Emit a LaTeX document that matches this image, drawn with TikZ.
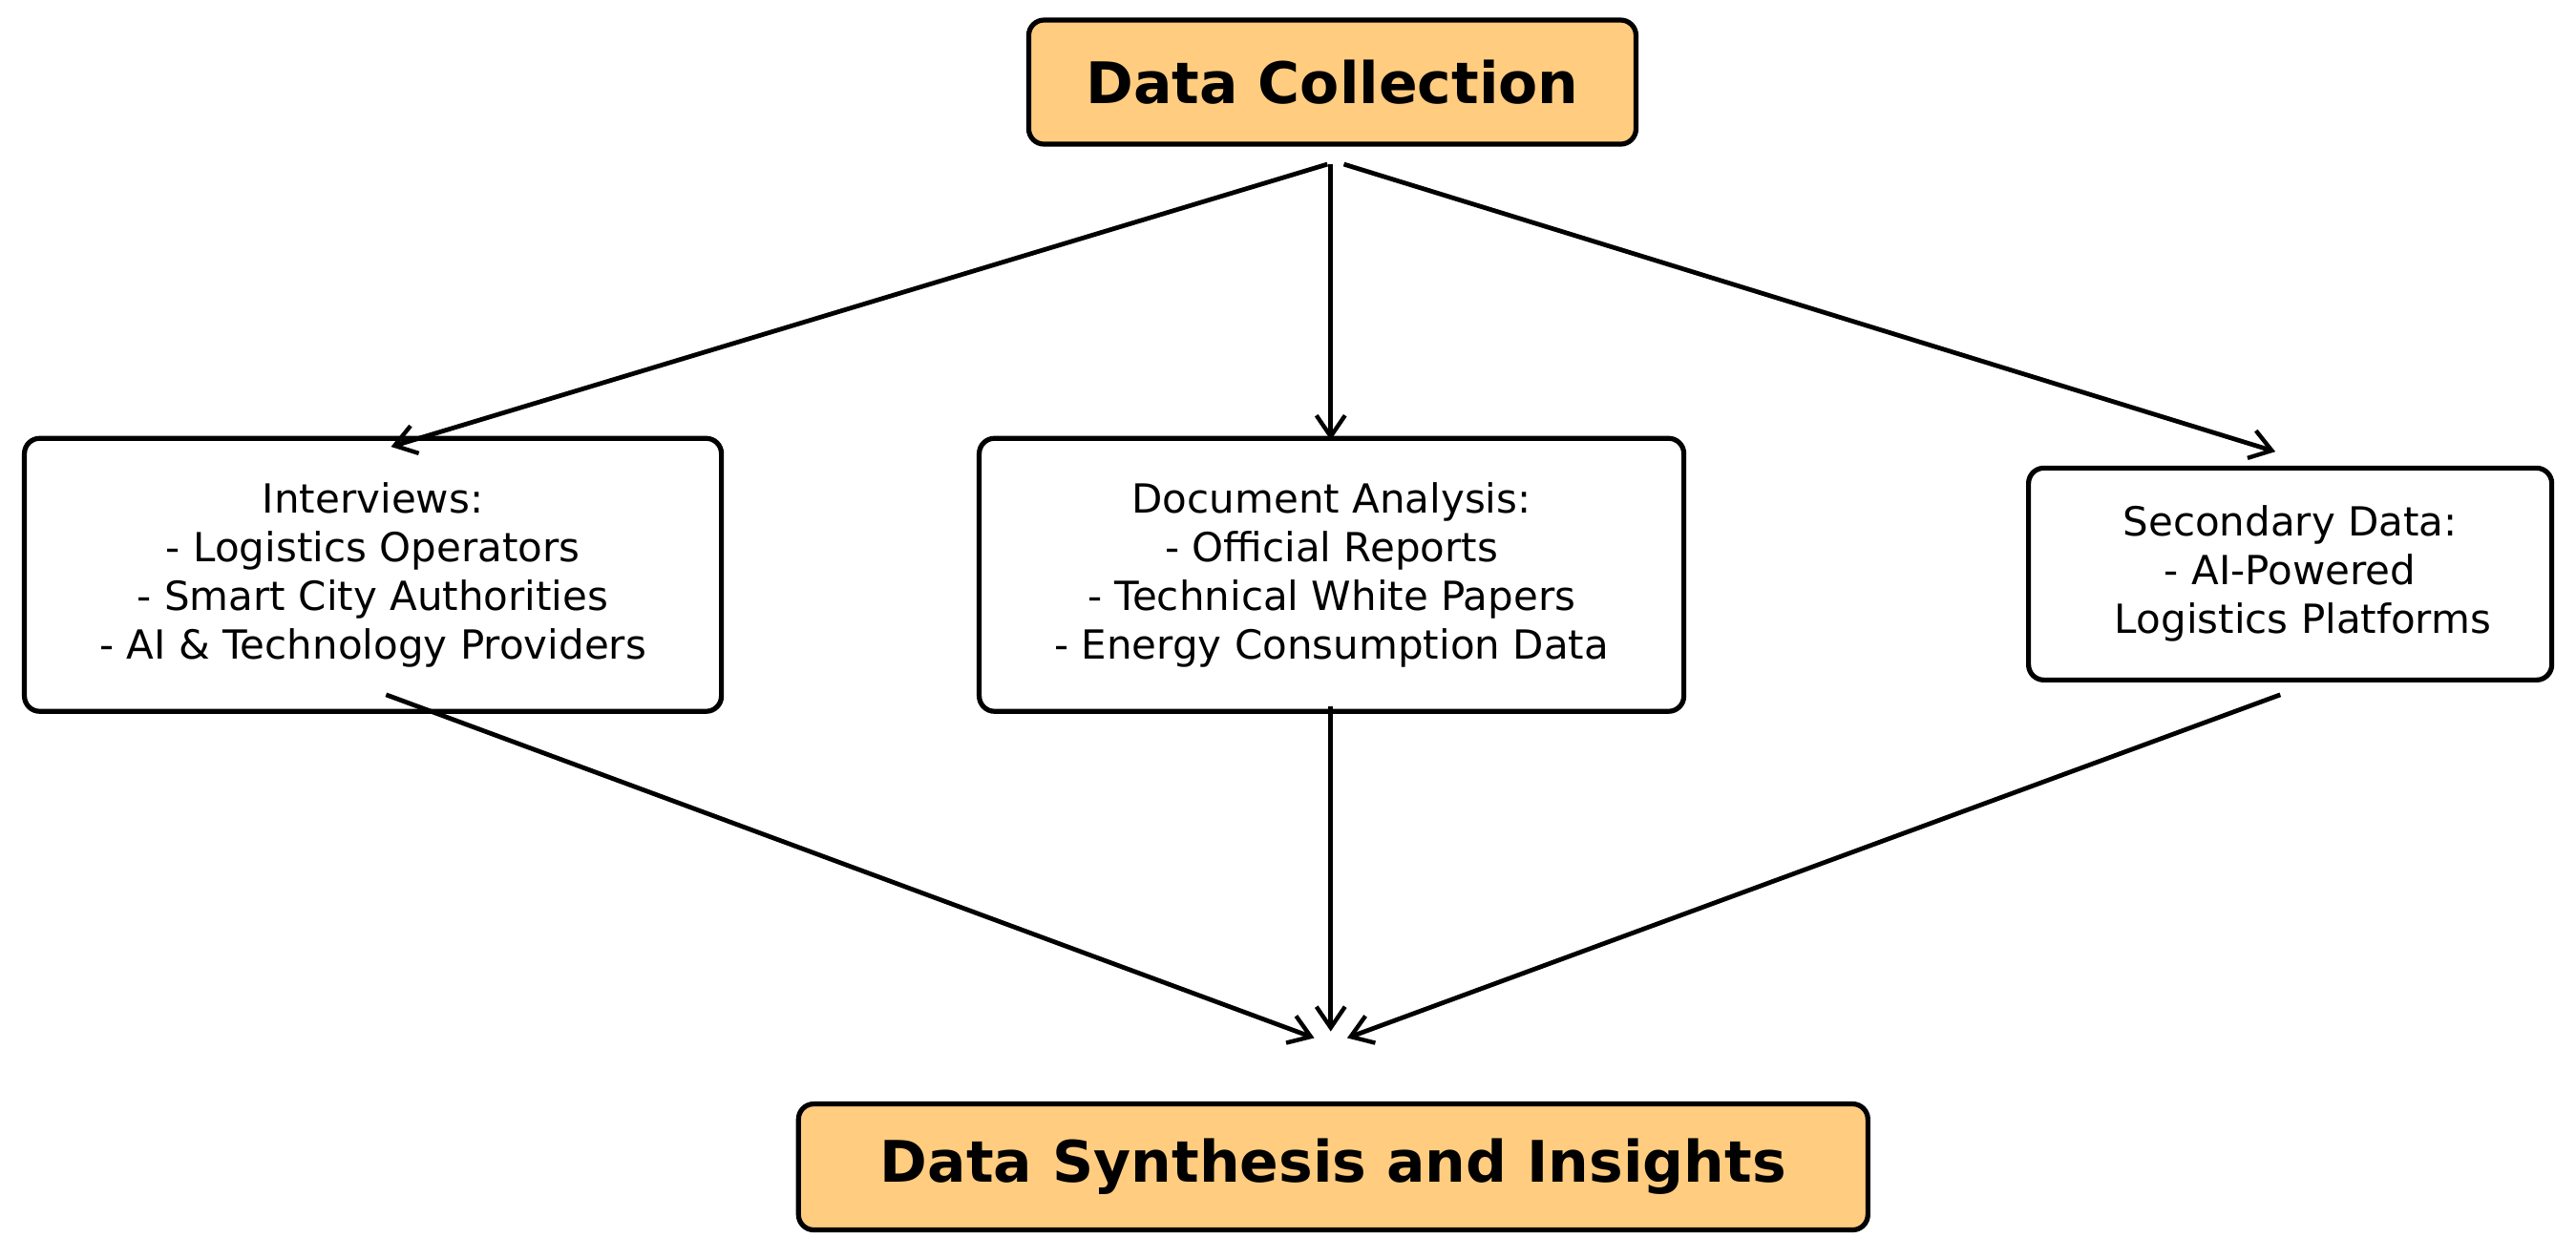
\documentclass[tikz,border=0pt]{standalone}
\usepackage{fontspec}
\setmainfont{DejaVu Sans}
\usetikzlibrary{arrows.meta}
\begin{document}
\begin{tikzpicture}[x=0.8603pt,y=-0.8603pt,
  box/.style={draw=black,line width=2.6pt,rounded corners=8pt,align=center,inner sep=0pt,font=\fontsize{21}{25.5}\selectfont},
  title/.style={box,fill=orange!50!yellow!60,fill={rgb,255:red,255;green,204;blue,128},font=\fontsize{30}{36}\bfseries\selectfont},
  arr/.style={line width=2.4pt,-{Straight Barb[length=11pt,width=15pt,line width=2.2pt]}}]
\useasboundingbox (0,0) rectangle (1568,766);
\node[title,minimum width=318pt,minimum height=65pt] (dc) at (811,50) {Data Collection};
\node[title,minimum width=560pt,minimum height=66pt] (ds) at (811.5,710.5) {Data Synthesis and Insights};
\node[box,minimum width=365pt,minimum height=143pt] (iv) at (227,350) {Interviews:\\- Logistics Operators\\- Smart City Authorities\\- AI \& Technology Providers};
\node[box,minimum width=369pt,minimum height=143pt] (da) at (810.5,350) {Document Analysis:\\- Official Reports\\- Technical White Papers\\- Energy Consumption Data};
\node[box,minimum width=274pt,minimum height=111pt] (sd) at (1394,349.5) {Secondary Data:\\- AI-Powered\\\ \ Logistics Platforms};
\coordinate (s1) at (808,100); \coordinate (s2) at (810,100); \coordinate (s3) at (818,100);
\coordinate (e1) at (238,272); \coordinate (e2) at (810,268); \coordinate (e3) at (1385,275);
\draw[arr] (s1) -- (e1);
\draw[arr] (s2) -- (e2);
\draw[arr] (s3) -- (e3);
\coordinate (b1) at (235,423); \coordinate (b2) at (810,430); \coordinate (b3) at (1388,423);
\coordinate (t1) at (800,632); \coordinate (t2) at (810,628); \coordinate (t3) at (820,632);
\draw[arr] (b1) -- (t1);
\draw[arr] (b2) -- (t2);
\draw[arr] (b3) -- (t3);
\end{tikzpicture}
\end{document}
